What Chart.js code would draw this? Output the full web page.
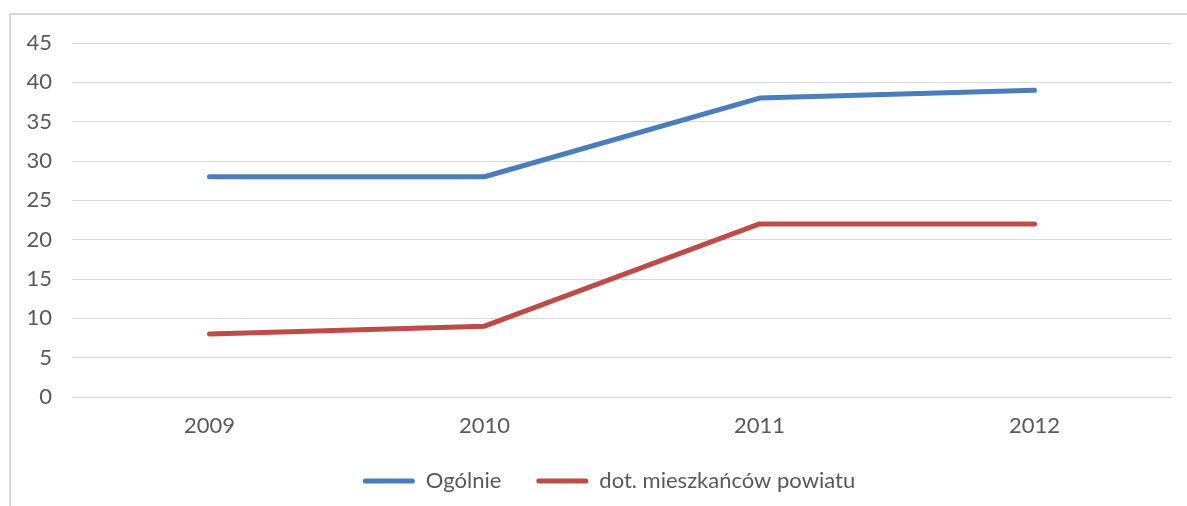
<!DOCTYPE html>
<html>
<head>
<meta charset="utf-8">
<script src="https://cdn.jsdelivr.net/npm/chart.js@4/dist/chart.umd.min.js"></script>
<style>
  html, body { margin: 0; padding: 0; background: #fff; }
  #wrap { position: relative; width: 1187px; height: 506px; overflow: hidden; }
  #frame { position: absolute; left: 9px; top: 13px; width: 1200px; height: 520px; border: 2px solid #d9d9d9; box-sizing: border-box; }
  #c { position: absolute; left: 0; top: 0; }
</style>
</head>
<body>
<div id="wrap">
  <div id="frame"></div>
  <canvas id="c" width="1187" height="506"></canvas>
</div>
<script>
const categories = ['2009', '2010', '2011', '2012'];
const seriesNames = ['Ogólnie', 'dot. mieszkańców powiatu'];
const ogolnie = [28, 28, 38, 39];
const mieszkancy = [8, 9, 22, 22];
const yTicks = [0, 5, 10, 15, 20, 25, 30, 35, 40, 45];

const blue = '#4a7ebb';
const red = '#be4b48';
const textColor = '#595959';
const font = { family: 'Lato', size: 22 };

const legendShift = {
  id: 'legendShift',
  afterLayout(chart) { if (chart.legend) { chart.legend.left -= 26; } }
};

new Chart(document.getElementById('c'), {
  type: 'line',
  data: {
    labels: categories,
    datasets: [
      { label: seriesNames[0], data: ogolnie, borderColor: blue, backgroundColor: blue, borderWidth: 5,
        pointRadius: 0, tension: 0, borderCapStyle: 'round', borderJoinStyle: 'round' },
      { label: seriesNames[1], data: mieszkancy, borderColor: red, backgroundColor: red, borderWidth: 5,
        pointRadius: 0, tension: 0, borderCapStyle: 'round', borderJoinStyle: 'round' }
    ]
  },
  plugins: [legendShift],
  options: {
    responsive: false,
    animation: false,
    layout: { padding: { left: 0, right: 15, top: 43, bottom: 4 } },
    plugins: {
      tooltip: { enabled: false },
      legend: {
        position: 'bottom',
        fullSize: false,
        labels: {
          color: textColor,
          font: font,
          boxWidth: 52,
          boxHeight: 5,
          padding: 35,
          generateLabels: (chart) => Chart.defaults.plugins.legend.labels.generateLabels(chart).map(it => ({
            ...it, lineWidth: 0, fillStyle: it.strokeStyle, borderRadius: 2.5
          }))
        }
      }
    },
    scales: {
      x: {
        offset: true,
        grid: { display: false, drawTicks: false },
        border: { display: false },
        ticks: { color: textColor, font: font, padding: 16 },
        afterFit: (s) => { s.height = 38; }
      },
      y: {
        min: 0, max: 45,
        afterBuildTicks: (s) => { s.ticks = yTicks.map(v => ({ value: v })); },
        grid: { color: '#d9d9d9', lineWidth: 1, drawTicks: false },
        border: { display: false },
        ticks: { color: textColor, font: font, padding: 20 },
        afterFit: (s) => { s.width = 72; }
      }
    }
  }
});
</script>
</body>
</html>
